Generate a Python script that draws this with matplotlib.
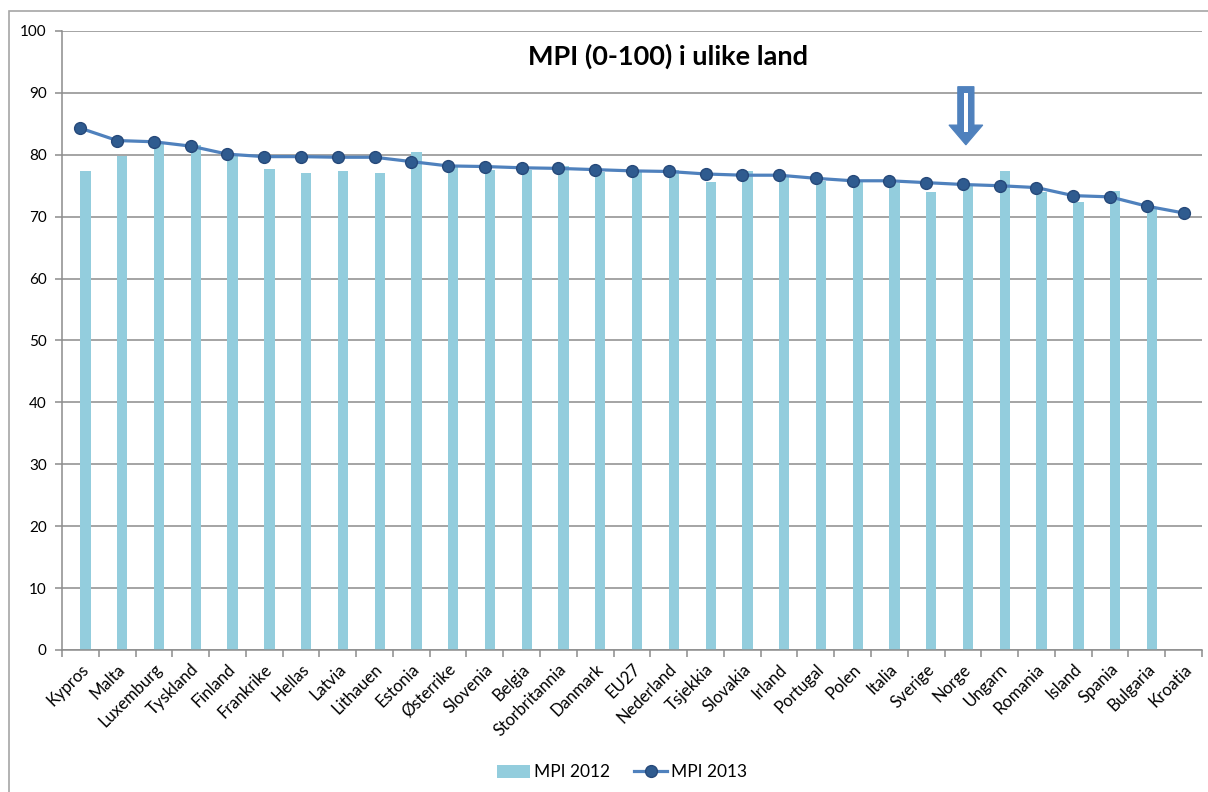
import matplotlib
matplotlib.use("Agg")
import matplotlib.pyplot as plt
import matplotlib.patches as patches
from matplotlib.lines import Line2D
import numpy as np

plt.rcParams['font.family'] = ['Lato', 'DejaVu Sans']

land = ['Kypros', 'Malta', 'Luxemburg', 'Tyskland', 'Finland', 'Frankrike', 'Hellas',
        'Latvia', 'Lithauen', 'Estonia', 'Østerrike', 'Slovenia', 'Belgia', 'Storbritannia',
        'Danmark', 'EU27', 'Nederland', 'Tsjekkia', 'Slovakia', 'Irland', 'Portugal', 'Polen',
        'Italia', 'Sverige', 'Norge', 'Ungarn', 'Romania', 'Island', 'Spania', 'Bulgaria',
        'Kroatia']

# Kroatia has no 2012 figure
mpi_2012 = [77.3, 79.8, 81.7, 81.5, 80.0, 77.7, 77.1, 77.4, 77.1, 80.5, 78.0, 77.5,
            77.5, 78.2, 77.2, 77.2, 77.5, 75.6, 77.3, 76.4, 75.8, 75.6, 75.4, 74.0,
            74.9, 77.4, 74.0, 72.4, 74.2, 71.3, np.nan]
mpi_2013 = [84.3, 82.3, 82.1, 81.4, 80.1, 79.7, 79.7, 79.6, 79.6, 78.9, 78.2, 78.1,
            77.9, 77.8, 77.6, 77.4, 77.3, 76.9, 76.7, 76.7, 76.2, 75.8, 75.8, 75.5,
            75.2, 75.0, 74.7, 73.4, 73.2, 71.7, 70.6]

bar_col = '#93cddd'
line_col = '#4f81bd'
mark_col = '#2f5b8f'
grid_col = '#8c8c8c'

fig = plt.figure(figsize=(12.08, 7.92), dpi=100)
ax = fig.add_axes([0.0513, 0.1793, 0.9437, 0.7816])

x = np.arange(len(land))
ax.bar(x, mpi_2012, width=0.28, align='edge', color=bar_col, zorder=2)
ax.plot(x, mpi_2013, color=line_col, lw=2.3, marker='o', markersize=8.5,
        markerfacecolor=mark_col, markeredgecolor='#26497a', markeredgewidth=1,
        zorder=3)

ax.set_xlim(-0.5, len(land) - 0.5)
ax.set_ylim(0, 100)
ax.set_yticks(range(0, 101, 10))
ax.yaxis.grid(True, color=grid_col, lw=1.1)
ax.set_axisbelow(True)

ax.set_xticks(x)
ax.set_xticklabels(land, rotation=45, ha='right', rotation_mode='anchor', fontsize=12)
ax.set_xticks(np.arange(-0.5, len(land)), minor=True)
ax.tick_params(axis='x', which='major', length=0, pad=8)
ax.tick_params(axis='x', which='minor', length=5, color=grid_col, width=1.1)
ax.tick_params(axis='y', length=5, color=grid_col, width=1.1, labelsize=11, pad=6)

for side in ['top', 'right']:
    ax.spines[side].set_visible(False)
for side in ['left', 'bottom']:
    ax.spines[side].set_color(grid_col)
    ax.spines[side].set_linewidth(1.1)

fig.text(0.5526, 0.929, 'MPI (0-100) i ulike land', ha='center', va='center',
         fontsize=19.5, fontweight='bold')

# block arrow pointing at Norge
ax_x = 24.08
arrow = patches.Polygon([[ax_x - 0.22, 91.0], [ax_x + 0.22, 91.0], [ax_x + 0.22, 84.8],
                         [ax_x + 0.46, 84.8], [ax_x, 81.6], [ax_x - 0.46, 84.8],
                         [ax_x - 0.22, 84.8]], closed=True, facecolor=line_col,
                        edgecolor=line_col, lw=0.8, zorder=4, clip_on=False)
ax.add_patch(arrow)
ax.add_patch(patches.Rectangle((ax_x - 0.055, 83.6), 0.11, 6.4, facecolor='white',
                               edgecolor='none', zorder=5))

handles = [patches.Patch(facecolor=bar_col, edgecolor='none', label='MPI 2012'),
           Line2D([], [], color=line_col, lw=2.3, marker='o', markersize=8.5,
                  markerfacecolor=mark_col, markeredgecolor='#26497a', label='MPI 2013')]
fig.legend(handles=handles, loc='center', bbox_to_anchor=(0.515, 0.025), ncol=2,
           frameon=False, fontsize=12.5, handlelength=1.9, handleheight=0.8,
           columnspacing=1.4, handletextpad=0.2)

# outer chart border
fig.patches.append(patches.Rectangle((9 / 1208, -0.1), 1.2, 1.1 - 11 / 792,
                                     transform=fig.transFigure, fill=False,
                                     edgecolor='#a6a6a6', lw=1.2))

fig.savefig('out.png', dpi=100)
